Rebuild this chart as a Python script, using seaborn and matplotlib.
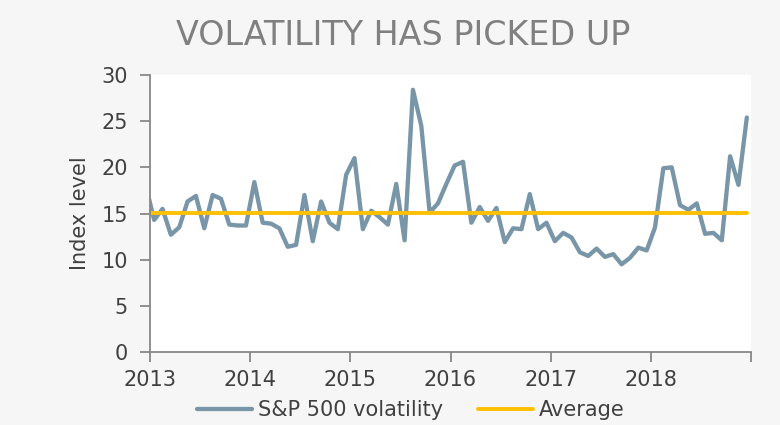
import numpy as np
import pandas as pd
import seaborn as sns
import matplotlib.pyplot as plt

# monthly S&P 500 volatility, Dec 2012 .. Dec 2018
months = pd.date_range('2012-12-01', '2018-12-01', freq='MS')
volatility = [18.0,
              14.3, 15.5, 12.7, 13.5, 16.3, 16.9, 13.4, 17.0, 16.6, 13.8, 13.7, 13.7,
              18.4, 14.0, 13.9, 13.4, 11.4, 11.6, 17.0, 12.0, 16.3, 14.0, 13.3, 19.2,
              21.0, 13.3, 15.3, 14.6, 13.8, 18.2, 12.1, 28.4, 24.5, 15.1, 16.1, 18.2,
              20.2, 20.6, 14.0, 15.7, 14.2, 15.6, 11.9, 13.4, 13.3, 17.1, 13.3, 14.0,
              12.0, 12.9, 12.4, 10.8, 10.4, 11.2, 10.3, 10.6, 9.5, 10.2, 11.3, 11.0,
              13.5, 19.9, 20.0, 15.9, 15.4, 16.1, 12.8, 12.9, 12.1, 21.2, 18.1, 25.4]
average = 15.05
years = ['2013', '2014', '2015', '2016', '2017', '2018', '']

df = pd.DataFrame({'month': months, 'vol': volatility})
# month position on the axis: each month plotted mid-month, Jan 2013 = 0.5
df['pos'] = np.arange(len(df)) - 0.5
df['avg'] = average

sns.set_style('white')
plt.rcParams['font.family'] = ['DejaVu Sans']

fig = plt.figure(figsize=(7.8, 4.25), dpi=100, facecolor='#f6f6f6')
ax = fig.add_axes([150/780, 1-352/425, 601/780, 277/425])
ax.set_facecolor('white')

sns.lineplot(data=df, x='pos', y='vol', ax=ax, color='#7896a8', lw=3.1,
             label='S&P 500 volatility')
sns.lineplot(data=df, x='pos', y='avg', ax=ax, color='#ffc000', lw=2.8,
             label='Average')

ax.set_xlim(0, 72)
ax.set_ylim(0, 30)
ax.set_xticks(range(0, 73, 12))
ax.set_xticklabels(years)
ax.set_yticks(range(0, 31, 5))
ax.set_xlabel('')
ax.set_ylabel('Index level', fontsize=15, color='#404040', labelpad=8)

for s in ['top', 'right']:
    ax.spines[s].set_visible(False)
for s in ['left', 'bottom']:
    ax.spines[s].set_color('#888888')
    ax.spines[s].set_linewidth(1.3)
ax.tick_params(axis='both', colors='#888888', labelcolor='#404040',
               labelsize=15, length=7, width=1.3, direction='out')
ax.tick_params(axis='y', pad=9)
ax.tick_params(axis='x', pad=6)
ax.yaxis.set_ticks_position('left')
ax.xaxis.set_ticks_position('bottom')

fig.text(403/780, 1-45/425, 'VOLATILITY HAS PICKED UP', fontsize=24,
         color='#808080', ha='center', va='baseline')

ax.legend(loc='center', bbox_to_anchor=(411/780, 1-410/425),
          bbox_transform=fig.transFigure, ncol=2, frameon=False,
          fontsize=15, handlelength=2.6, columnspacing=1.7, handletextpad=0.3,
          labelcolor='#404040')

fig.savefig('out.png', dpi=100, facecolor=fig.get_facecolor())
